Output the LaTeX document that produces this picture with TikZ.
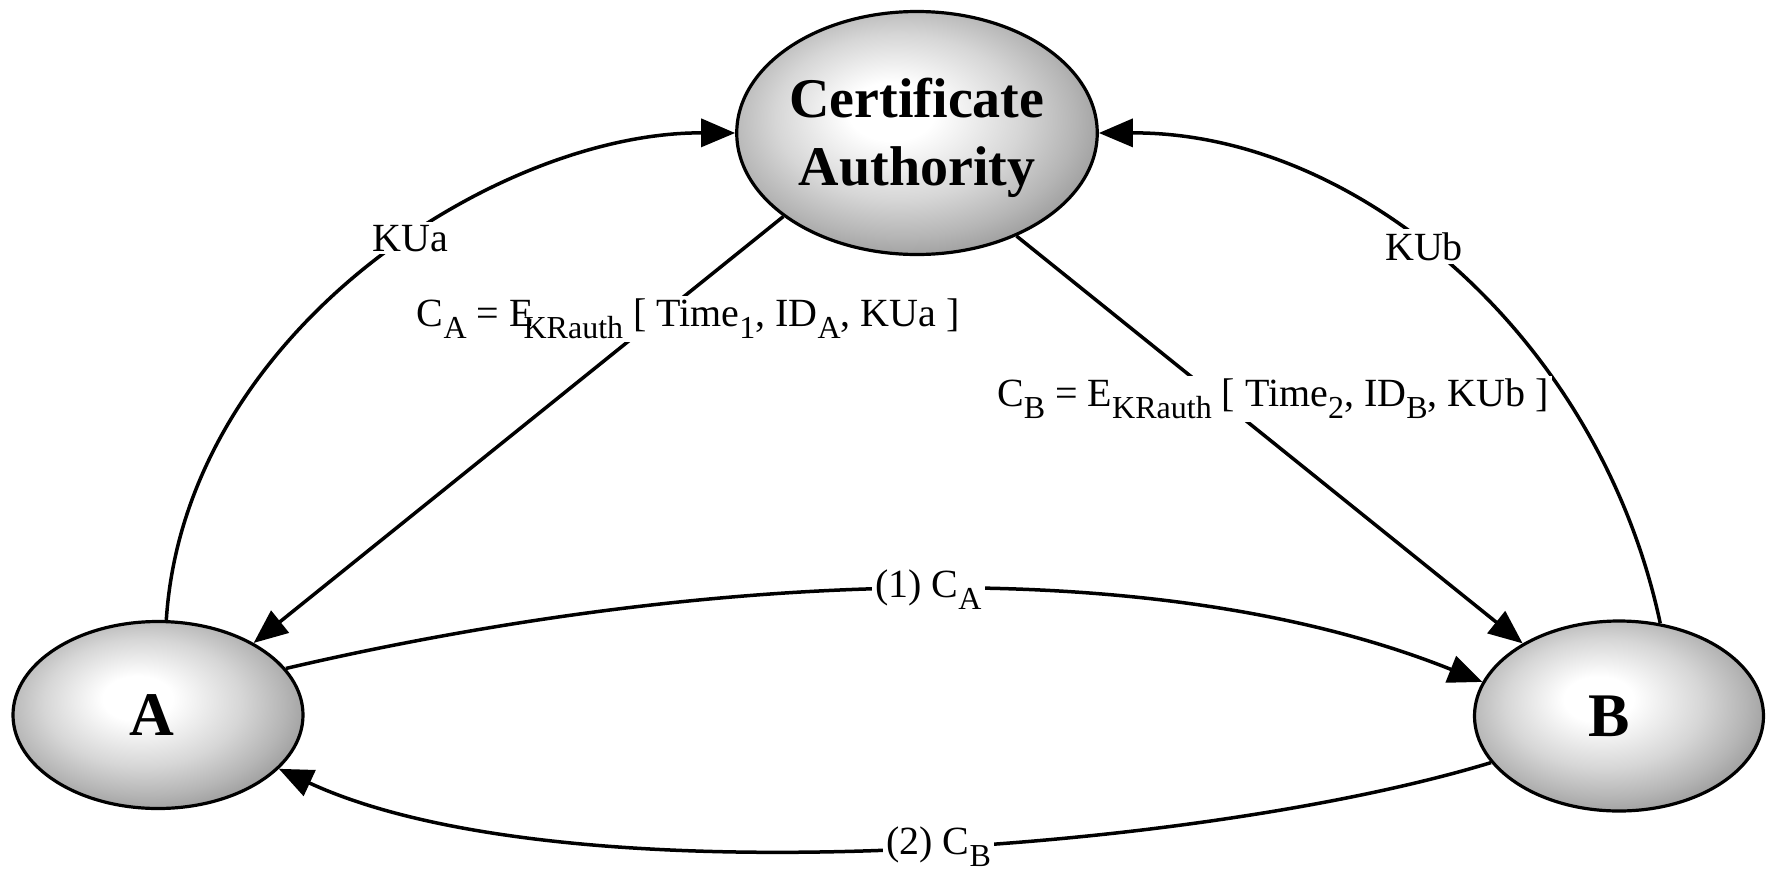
\documentclass[tikz,border=0pt]{standalone}
\usepackage{fontspec}
\setmainfont{Liberation Serif}
\usetikzlibrary{arrows.meta,shapes.geometric}

% soft grey ball look: light centre a little up and to the left
\pgfdeclareradialshading{orb}{\pgfpoint{-4bp}{5bp}}{%
  color(0bp)=(white); color(6bp)=(white); color(17bp)=(black!16);
  color(24bp)=(black!29); color(30bp)=(black!42); color(50bp)=(black!42)}

\newcommand\lowsub[1]{\raisebox{-0.3em}{\fontsize{16}{16}\selectfont #1}}

\begin{document}
\begin{tikzpicture}[x=0.5pt,y=-0.5pt,
  party/.style={ellipse, draw, line width=1.6pt, shade, shading=orb,
    inner sep=0pt, font=\fontsize{31}{31}\selectfont\bfseries},
  link/.style={line width=1.75pt, -{Triangle[length=17pt,width=14pt]}},
  tag/.style={fill=white, inner sep=1.5pt, font=\fontsize{20}{20}\selectfont}]
\useasboundingbox (0,0) rectangle (1774,879);

% the three parties
\node[party, minimum width=170pt, minimum height=121.5pt, align=center,
      font=\fontsize{28}{34}\selectfont\bfseries] (CA) at (917,133)
      {\rule{0pt}{24.3pt}Certificate\\Authority};
\node[party, minimum width=145pt, minimum height=93.5pt] (A) at (158,715)
      {\hspace*{-6pt}A};
\node[party, minimum width=144.5pt, minimum height=95pt] (B) at (1619,716)
      {\hspace*{-10pt}B};

% public keys sent to the authority
\draw[link] (A.85) .. controls (185,330) and (500,132) .. (CA.west)
  node[tag, pos=0.56] {KUa};
\draw[link] (B.66) .. controls (1600,340) and (1360,132) .. (CA.east)
  node[tag, pos=0.55] {KUb};

% certificates issued by the authority
\draw[link] (CA.212.5) -- (A.37)
  node[tag, pos=0.24, xshift=16pt]
  {C\lowsub{A} = E\kern-5pt\lowsub{KRauth} [ Time\lowsub{1}, ID\lowsub{A}, KUa ]};
\draw[link] (CA.314.4) -- (B.143)
  node[tag, pos=0.40, xshift=27pt]
  {C\lowsub{B} = E\lowsub{KRauth} [ Time\lowsub{2}, ID\lowsub{B}, KUb ]};

% certificate exchange between the parties
\draw[link] (A.20) .. controls (656,582) and (1130,541) .. (B.166.6)
  node[tag, pos=0.53] {(1) C\lowsub{A}};
\draw[link] (B.200) .. controls (1201,851) and (564,901) .. (A.336)
  node[tag, pos=0.46] {(2) C\lowsub{B}};
\end{tikzpicture}
\end{document}
